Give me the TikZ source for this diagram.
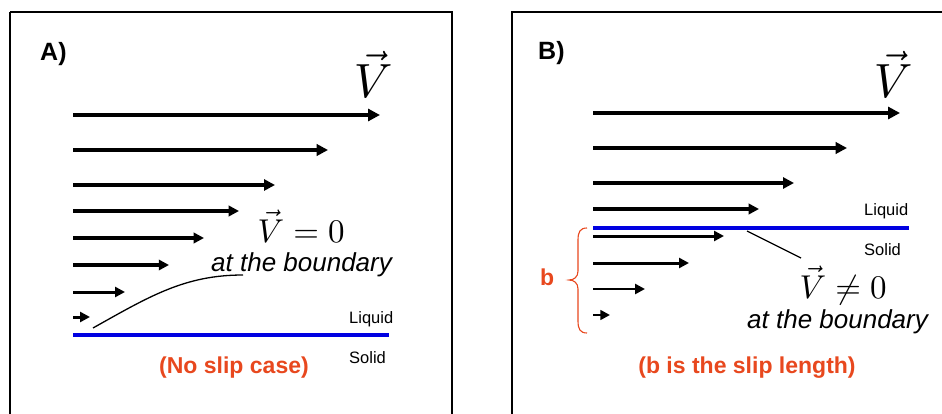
\documentclass[tikz,border=0pt]{standalone}
\usepackage{fontspec}
\setsansfont{Liberation Sans}
\usetikzlibrary{arrows.meta}
\definecolor{lbl}{RGB}{232,72,30}
\definecolor{wall}{RGB}{0,0,225}
\tikzset{
  panel/.style={draw=black,line width=2.4pt},
  flow/.style={line width=#1pt,-{Triangle[length=#1*2pt+4pt,width=#1*2pt+4pt]}},
  boundary/.style={draw=wall,line width=4.8pt},
  sanstext/.style={font=\sffamily\fontsize{16.5}{18}\selectfont,inner sep=0pt,anchor=base west},
  redtext/.style={font=\sffamily\bfseries\fontsize{23}{26}\selectfont,text=lbl,inner sep=0pt,anchor=base},
  paneltag/.style={font=\sffamily\bfseries\fontsize{25}{28}\selectfont,inner sep=0pt,anchor=base west},
  ittext/.style={font=\sffamily\itshape\fontsize{26}{30}\selectfont,inner sep=0pt,anchor=base west},
  eqtext/.style={font=\normalsize,scale=3.3,inner sep=0pt,anchor=base west},
  bigv/.style={font=\normalsize,scale=4.8,inner sep=0pt,anchor=base west},
  pointer/.style={line width=1.3pt,black}
}
\begin{document}
\begin{tikzpicture}[x=1pt,y=-1pt]
\useasboundingbox (0,0) rectangle (942,414);
\fill[white] (0,0) rectangle (942,414);
% panels
\draw[panel] (10,12) -- (452,12) -- (452,420) (10,420) -- (10,12);
\draw[panel] (512,420) -- (512,12) -- (950,12);
% ---------- Panel A ----------
\node[paneltag] (tagA) at (40,61) {A)};
\node[bigv] (VA) at (353,98) {$\vec{V}$};
\foreach \i/\y/\xe/\w in {1/115/380/4, 2/150/328/3.7, 3/185/275/3.4, 4/211/239/3.2, 5/238/204/3.2, 6/265/169/3.1, 7/292/125/3, 8/317/90/3}{
  \coordinate (a\i s) at (73,\y);
  \coordinate (a\i e) at (\xe,\y);
  \draw[flow=\w] (a\i s) -- (a\i e);
}
\coordinate (wAs) at (73,335);
\coordinate (wAe) at (389,335);
\draw[boundary] (wAs) -- (wAe);
\node[eqtext] (eqA) at (257,242) {$\vec{V}=0$};
\node[ittext] (atA) at (211,271) {at the boundary};
\coordinate (cA1) at (93,328);
\coordinate (cA2) at (243,275);
\draw[pointer] (cA1) .. controls (150,296) and (185,275) .. (cA2);
\node[sanstext] (liqA) at (349,323) {Liquid};
\node[sanstext] (solA) at (349,363) {Solid};
\node[redtext] (capA) at (234,373) {(No slip case)};
% ---------- Panel B ----------
\node[paneltag] (tagB) at (538,60) {B)};
\node[bigv] (VB) at (873,98) {$\vec{V}$};
\foreach \i/\y/\xe/\w in {1/113/900/4, 2/148/847/3.7, 3/183/794/3.4, 4/209/759/3.2, 5/236/724/3, 6/263/689/3, 7/289/645/2.9, 8/315/610/2.8}{
  \coordinate (b\i s) at (593,\y);
  \coordinate (b\i e) at (\xe,\y);
  \draw[flow=\w] (b\i s) -- (b\i e);
}
\coordinate (wBs) at (593,228);
\coordinate (wBe) at (909,228);
\draw[boundary] (wBs) -- (wBe);
\coordinate (pB1) at (747,231);
\coordinate (pB2) at (801,258);
\draw[pointer] (pB1) -- (pB2);
\node[sanstext] (liqB) at (864,215) {Liquid};
\node[sanstext] (solB) at (864,255) {Solid};
\node[eqtext] (eqB) at (799,298) {$\vec{V}\neq 0$};
\node[ittext] (atB) at (747,328) {at the boundary};
\node[redtext] (capB) at (747,373) {(b is the slip length)};
\node[redtext,anchor=base west] (bB) at (540,285) {b};
\draw[lbl,line width=1.1pt] (587,228) .. controls (580,228) and (578,232) .. (578,240) -- (578,271) .. controls (578,277) and (574,280) .. (569,280) .. controls (574,280) and (578,283) .. (578,289) -- (578,321) .. controls (578,329) and (580,333) .. (587,333);
\end{tikzpicture}
\end{document}
